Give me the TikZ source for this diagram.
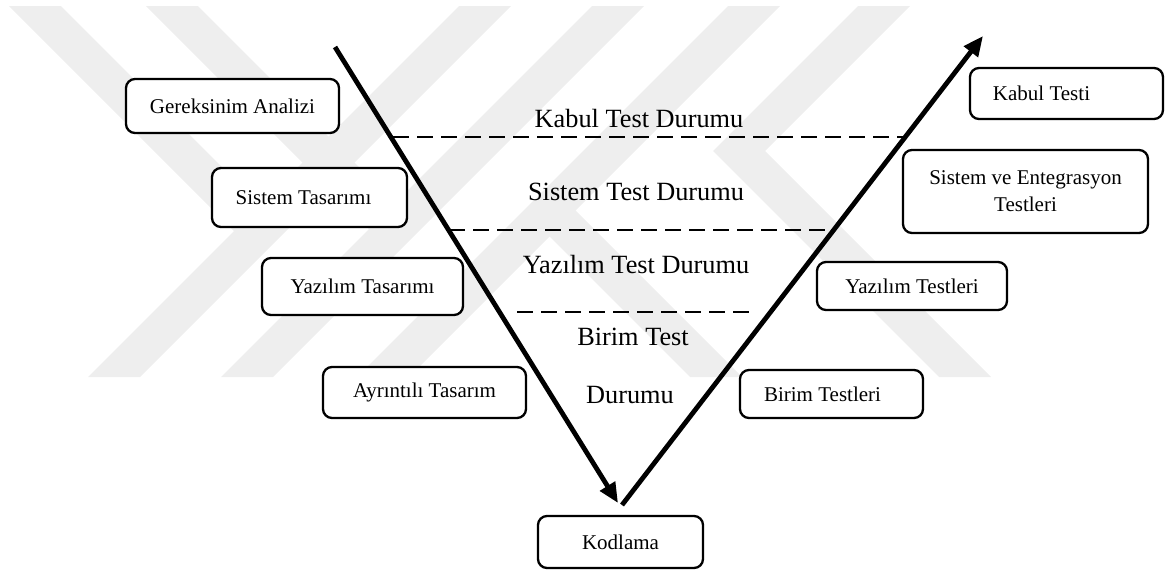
\documentclass[tikz,border=0pt]{standalone}
\usepackage{fontspec}
\setmainfont{Liberation Serif}
\usetikzlibrary{arrows.meta}
\definecolor{wmgray}{gray}{0.935}
\begin{document}
\begin{tikzpicture}[x=1pt,y=-1pt,
  stagebox/.style={draw=black, line width=2.3pt, rounded corners=9pt, fill=white,
    font=\fontsize{21}{27}\selectfont, align=center, inner sep=0pt},
  phase/.style={font=\fontsize{26.3}{30}\selectfont, anchor=base, inner sep=0pt},
  vline/.style={line width=4.8pt, -{Triangle[length=20pt,width=17pt]}},
  level/.style={line width=2pt, dash pattern=on 16pt off 8pt},
  band/.style={fill=wmgray, draw=none}]
\useasboundingbox (0,0) rectangle (1175,571);

% background mark: light diagonal bands
\begin{scope}
  \clip (0,6) rectangle (1175,377);
  \fill[band] (88,377) -- (140,377) -- (511,6) -- (459,6) -- cycle;
  \fill[band] (221,377) -- (273,377) -- (644,6) -- (592,6) -- cycle;
  \fill[band] (357,377) -- (409,377) -- (780,6) -- (728,6) -- cycle;
  \fill[band] (9,6) -- (61,6) -- (273,218) -- (247,244) -- cycle;
  \fill[band] (146,6) -- (198,6) -- (408,216) -- (382,242) -- cycle;
  \fill[band] (690,377) -- (742,377) -- (562.5,197.5) -- (536.5,223.5) -- cycle;
  \fill[band] (858,6) -- (910,6) -- (765,151) -- (991,377) -- (939,377) -- (713,151) -- cycle;
\end{scope}

% development stages (left) and test stages (right)
\node[stagebox, minimum width=213pt, minimum height=54pt] (ga)  at (232.5,106)  {Gereksinim Analizi};
\node[stagebox, minimum width=195pt, minimum height=59pt] (st)  at (309.5,197.5) {Sistem Tasarımı\hspace*{12pt}};
\node[stagebox, minimum width=201pt, minimum height=57pt] (yt)  at (362.5,286.5) {Yazılım Tasarımı};
\node[stagebox, minimum width=203pt, minimum height=51pt] (ayr) at (424.5,392.5) {Ayrıntılı Tasarım};
\node[stagebox, minimum width=165pt, minimum height=52pt] (kod) at (620.5,542)  {Kodlama};
\node[stagebox, minimum width=193pt, minimum height=51pt] (kt)  at (1066.5,93.5) {Kabul Testi\hspace*{50pt}};
\node[stagebox, minimum width=245pt, minimum height=83pt] (set) at (1025.5,191.5) {Sistem ve Entegrasyon\\Testleri};
\node[stagebox, minimum width=190pt, minimum height=48pt] (yts) at (912,286)    {Yazılım Testleri};
\node[stagebox, minimum width=183pt, minimum height=48pt] (bt)  at (831.5,394)  {Birim Testleri\hspace*{18pt}};

% test case labels between the arms
\node[phase] (p1) at (639,127) {Kabul Test Durumu};
\node[phase] (p2) at (636,200) {Sistem Test Durumu};
\node[phase] (p3) at (636,273) {Yazılım Test Durumu};
\node[phase] (p4) at (633,345) {Birim Test};
\node[phase] (p5) at (630,403) {Durumu};

% dashed level separators
\coordinate (l1a) at (393,137);
\coordinate (l1b) at (905,137);
\coordinate (l2a) at (449,230);
\coordinate (l2b) at (826,230);
\coordinate (l3a) at (517,312);
\coordinate (l3b) at (753,312);
\draw[level] (l1a) -- (l1b);
\draw[level] (l2a) -- (l2b);
\draw[level] (l3a) -- (l3b);

% the two arms of the V
\coordinate (dtop) at (335,47);
\coordinate (dend) at (618,503);
\coordinate (ustart) at (622,505);
\coordinate (uend) at (983,36);
\draw[vline] (dtop) -- (dend);
\draw[vline] (ustart) -- (uend);
\end{tikzpicture}
\end{document}
